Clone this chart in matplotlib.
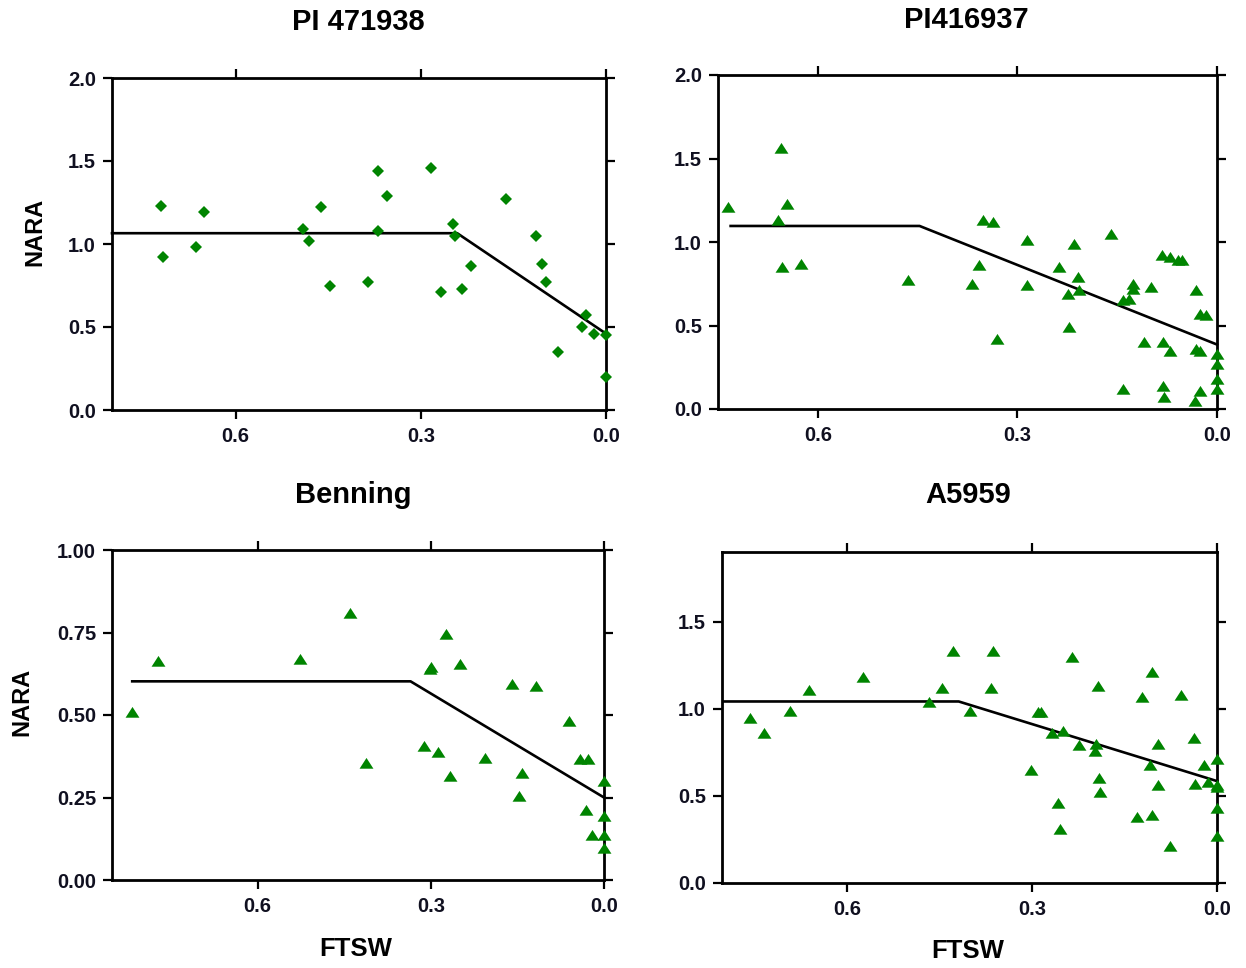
import matplotlib
matplotlib.use("Agg")
import matplotlib.pyplot as plt
import numpy as np

plt.rcParams['font.family'] = ['Liberation Sans', 'DejaVu Sans']
plt.rcParams['font.weight'] = 'bold'

# ---------------- data ----------------
titles = ["PI 471938", "PI416937", "Benning", "A5959"]

# Panel 1: PI 471938 (diamonds)
p1_x = [0.721, 0.717, 0.651, 0.664, 0.491, 0.481, 0.462, 0.447, 0.385, 0.369,
        0.354, 0.370, 0.283, 0.267, 0.247, 0.244, 0.234, 0.219, 0.162, 0.113,
        0.104, 0.097, 0.077, 0.033, 0.039, 0.019, 0.000, 0.000]
p1_y = [1.23, 0.92, 1.19, 0.98, 1.09, 1.02, 1.22, 0.75, 0.77, 1.44,
        1.29, 1.08, 1.46, 0.71, 1.12, 1.05, 0.73, 0.87, 1.27, 1.05,
        0.88, 0.77, 0.35, 0.57, 0.50, 0.46, 0.45, 0.20]
p1_line_x = [0.80, 0.241, 0.0]
p1_line_y = [1.065, 1.065, 0.46]

# Panel 2: PI416937 (triangles)
p2_x = [0.735, 0.655, 0.646, 0.660, 0.654, 0.626, 0.464, 0.352, 0.337, 0.358,
        0.368, 0.331, 0.285, 0.285, 0.237, 0.215, 0.209, 0.224, 0.207, 0.222,
        0.159, 0.141, 0.142, 0.132, 0.127, 0.126, 0.110, 0.099, 0.082, 0.071,
        0.059, 0.052, 0.081, 0.071, 0.081, 0.079, 0.032, 0.025, 0.016, 0.032,
        0.026, 0.025, 0.033, 0.000, 0.000, 0.000, 0.000]
p2_y = [1.21, 1.56, 1.23, 1.13, 0.85, 0.87, 0.77, 1.13, 1.12, 0.86,
        0.75, 0.42, 1.01, 0.74, 0.85, 0.99, 0.79, 0.69, 0.71, 0.49,
        1.05, 0.12, 0.65, 0.66, 0.75, 0.72, 0.40, 0.73, 0.92, 0.91,
        0.89, 0.89, 0.40, 0.35, 0.14, 0.07, 0.71, 0.57, 0.56, 0.36,
        0.35, 0.11, 0.05, 0.33, 0.27, 0.18, 0.12]
p2_line_x = [0.731, 0.447, 0.0]
p2_line_y = [1.096, 1.096, 0.386]

# Panel 3: Benning (triangles)
p3_x = [0.817, 0.773, 0.527, 0.439, 0.412, 0.311, 0.301, 0.299, 0.287, 0.273,
        0.267, 0.249, 0.206, 0.159, 0.142, 0.147, 0.117, 0.061, 0.041, 0.027,
        0.031, 0.021, 0.000, 0.000, 0.000, 0.000]
p3_y = [0.510, 0.664, 0.670, 0.810, 0.354, 0.405, 0.638, 0.645, 0.387, 0.746,
        0.314, 0.656, 0.371, 0.593, 0.324, 0.255, 0.589, 0.483, 0.366, 0.366,
        0.213, 0.136, 0.301, 0.194, 0.136, 0.098]
p3_line_x = [0.817, 0.335, 0.0]
p3_line_y = [0.602, 0.602, 0.25]

# Panel 4: A5959 (triangles)
p4_x = [0.757, 0.735, 0.692, 0.662, 0.574, 0.467, 0.446, 0.428, 0.401, 0.363,
        0.366, 0.301, 0.291, 0.286, 0.267, 0.258, 0.255, 0.250, 0.236, 0.224,
        0.198, 0.196, 0.193, 0.191, 0.189, 0.129, 0.122, 0.105, 0.105, 0.108,
        0.095, 0.095, 0.076, 0.058, 0.038, 0.036, 0.021, 0.015, 0.000, 0.000,
        0.000, 0.000, 0.000]
p4_y = [0.95, 0.86, 0.99, 1.11, 1.18, 1.04, 1.12, 1.33, 0.99, 1.33,
        1.12, 0.65, 0.98, 0.98, 0.86, 0.46, 0.31, 0.87, 1.30, 0.79,
        0.76, 0.80, 1.13, 0.60, 0.52, 0.38, 1.07, 1.21, 0.39, 0.68,
        0.80, 0.56, 0.21, 1.08, 0.83, 0.57, 0.68, 0.58, 0.71, 0.56,
        0.55, 0.43, 0.27]
p4_line_x = [0.80, 0.419, 0.0]
p4_line_y = [1.042, 1.042, 0.585]

x_ticks = [0.6, 0.3, 0.0]
x_ticklabels = ["0.6", "0.3", "0.0"]
y_ticks_top = [0.0, 0.5, 1.0, 1.5, 2.0]
y_ticks_p3 = [0.00, 0.25, 0.50, 0.75, 1.00]
y_ticks_p4 = [0.0, 0.5, 1.0, 1.5]

# ---------------- figure ----------------
W, H = 1246, 968
fig = plt.figure(figsize=(W / 100, H / 100), dpi=100)

def px_axes(l, r, t, b):
    return fig.add_axes([l / W, 1 - b / H, (r - l) / W, (b - t) / H])

ax1 = px_axes(112, 606, 78, 410)
ax2 = px_axes(718, 1217, 75, 409)
ax3 = px_axes(112, 604, 550, 880)
ax4 = px_axes(722, 1217, 552, 883)

green = "#008400"
tri = [(0, 0.8), (-1, -0.75), (1, -0.75), (0, 0.8)]

panels = [
    (ax1, p1_x, p1_y, p1_line_x, p1_line_y, 'D', 5.8, (0.80, 0.0), (0, 2.0), y_ticks_top, "%.1f"),
    (ax2, p2_x, p2_y, p2_line_x, p2_line_y, tri, 10, (0.75, 0.0), (0, 2.0), y_ticks_top, "%.1f"),
    (ax3, p3_x, p3_y, p3_line_x, p3_line_y, tri, 10, (0.852, 0.0), (0, 1.0), y_ticks_p3, "%.2f"),
    (ax4, p4_x, p4_y, p4_line_x, p4_line_y, tri, 10, (0.803, 0.0), (0, 1.9), y_ticks_p4, "%.1f"),
]

for ax, xs, ys, lx, ly, mk, ms, xl, yl, yt, fmt in panels:
    ax.plot(lx, ly, color="black", lw=1.9, zorder=2, clip_on=False)
    ax.plot(xs, ys, linestyle="none", marker=mk, ms=ms, color=green,
            markeredgewidth=0, zorder=3, clip_on=False)
    ax.set_xlim(*xl)
    ax.set_ylim(*yl)
    ax.set_xticks(x_ticks)
    ax.set_xticklabels(x_ticklabels)
    ax.set_yticks(yt)
    ax.set_yticklabels([fmt % v for v in yt])
    for s in ax.spines.values():
        s.set_linewidth(2.0)
    ax.tick_params(axis="both", direction="out", length=6.5, width=1.6,
                   labelsize=14.5, top=True, right=True,
                   labeltop=False, labelright=False, colors="black")
    ax.tick_params(axis="x", pad=6)
    ax.tick_params(axis="y", pad=5)
    for lab in ax.get_xticklabels() + ax.get_yticklabels():
        lab.set_fontweight("bold")
        lab.set_color("#101020")

# titles
title_pos = [(358, 22), (966, 20), (353, 495), (968, 495)]
for t, (x, y) in zip(titles, title_pos):
    fig.text(x / W, 1 - y / H, t, ha="center", va="center",
             fontsize=21, fontweight="bold")

# axis labels
fig.text(35 / W, 1 - 232 / H, "NARA", rotation=90, ha="center", va="center",
         fontsize=17, fontweight="bold")
fig.text(22 / W, 1 - 702 / H, "NARA", rotation=90, ha="center", va="center",
         fontsize=17, fontweight="bold")
fig.text(356 / W, 1 - 949 / H, "FTSW", ha="center", va="center",
         fontsize=18.5, fontweight="bold")
fig.text(968 / W, 1 - 951 / H, "FTSW", ha="center", va="center",
         fontsize=18.5, fontweight="bold")

fig.savefig("out.png", dpi=100)
